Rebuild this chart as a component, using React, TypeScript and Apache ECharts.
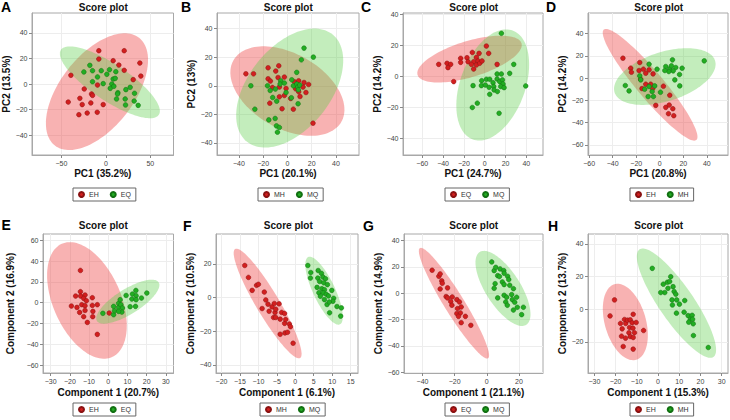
import React, { useEffect, useRef } from 'react';
import * as echarts from 'echarts';

const FONT = '"Liberation Sans", Arial, Helvetica, sans-serif';

// ---------- Panel A (PCA, EH vs EQ) ----------
const aEH = [[-7.9,26],[20.6,26],[-7.9,19.5],[8.2,18.2],[14.6,14.8],[38.2,16.4],[20.6,10.7],[-39.3,6.8],[39.3,6.2],[30.7,3.4],[-9.4,-0.8],[-24.3,-3.9],[-16.1,-7.8],[-15,-8.9],[-29.2,-11.2],[-42.3,-14.1],[-26.6,-16.1],[-16.9,-14.8],[-3,-16.1],[-21,-22.7],[-30.3,-24],[-9.7,-22.1]];
const aEQ = [[-18,14.6],[-24.7,9.4],[-15,10.4],[-5.2,10.4],[4.1,11.2],[11.2,9.6],[-9.4,5.5],[1.1,7.6],[-15,1.8],[8.2,3.9],[10.5,4.4],[-3,0.3],[6.7,0],[4.9,-3.4],[9,-1.8],[13.5,-6.8],[22.5,-4.4],[27.3,-2.6],[13.1,-7.8],[32.2,-7.3],[12,-11.7],[21.7,-11.7],[31.8,-13.3],[22.1,-16.4],[36.3,-16.7]];
// ellipse: [cx, cy, ux, uy, vx, vy] (center and conjugate semi-diameters, data units)
const aEllipses = [[-10,-6,47.3,42.1,-32.5,17.6],[4.5,1.3,55,-25.4,11.4,11.9]];

// ---------- Panel B (PCA, MH vs MQ) ----------
const bMH = [[-34.2,8.4],[-27.9,8.4],[-15.9,12.6],[-7.1,14],[-9.6,10.3],[-15.9,4.9],[-14,3.3],[-7.7,5.8],[-2.5,6.1],[-12.3,-1.2],[-6.6,-0.9],[-1.1,-1.9],[5.8,2.8],[9.3,3.5],[13.7,2.3],[17.5,0.9],[-6.6,-7.7],[-2.5,-6.8],[-14.5,-12.2],[-4.4,-16.1],[4.9,-16.4],[2.7,-8.9],[10.4,-7.5],[12.9,-0.9],[15.3,-4.7],[6.8,-2.1],[9.3,-4.2],[21.1,-26.2]];
const bMQ = [[13.7,26.4],[21.4,20.1],[11.5,18.2],[7.7,9.4],[-30.1,0],[-26.8,-16.4],[-16.4,0],[-14.2,-3.3],[-9.9,-2.3],[-5.5,3.5],[-6,1.2],[-2.5,1.9],[3.6,4.2],[4.9,0],[7.7,1.2],[8.5,-0.9],[9,-2.8],[10.1,0.5],[-1.1,-4.7],[-12.1,-8.2],[-8.8,-10.8],[3.3,-8.4],[8.8,-12.6],[-15.3,-23.9],[-10.1,-22.9],[-9,-28.1],[-6.6,-29.2],[-8.2,-32.5]];
const bEllipses = [[0,-3.7,44.5,-21.5,15.1,22.8],[1.9,-1.6,35.4,37.5,-26.3,18.2]];

// ---------- Panel C (PCA, EQ vs MQ) ----------
const cEQ = [[-44.2,7.9],[-36.2,8.6],[-32.7,7.9],[-35.3,5.8],[-29.8,-3.2],[-23.1,11.8],[-23.1,9.2],[-17,12.2],[-16,9.6],[-11.9,15.6],[-8,12.4],[-10.6,9.6],[-6.4,10.1],[-12.8,7.9],[-8,7.5],[-5.4,15],[-4.8,8.6],[-10.6,4.9],[1.6,19.7],[3.8,15],[11.9,7.9],[-2.6,10.1]];
const cMQ = [[16,27.9],[27.9,7.9],[24,2.1],[11.9,1.7],[16,1.7],[1.6,-1.7],[4.8,-1.7],[8,-3.9],[-2.9,-2.6],[-11.2,-5.8],[-3.2,-5.8],[0.6,-5.4],[4.2,-6.9],[8.7,-6.4],[9,-8.6],[11.9,-1.5],[14.4,-3.2],[17,-2.1],[17.6,-4.7],[15.4,-6.4],[18.6,-7.1],[12.2,-9.6],[4.8,-11.4],[39.4,-6],[-11.9,-19.9],[-7.1,-17.1],[13.8,-23.6]];
const cEllipses = [[-14.6,11.3,49.9,10.2,-5.1,11.1],[7.7,-5.4,19.1,35.1,-29.3,7.1]];

// ---------- Panel D (PCA, EH vs MH) ----------
const dEH = [[-31.3,18],[-24.7,9],[-24.1,5.4],[-17,14.1],[-17.6,6.9],[-13.9,8.1],[-11.9,4.5],[-9.1,7.5],[-5.7,3.9],[-15.1,-9.3],[-11.9,-5.4],[-7.7,-5.4],[-6,-9.3],[3.1,-7.2],[8.5,-15.3],[-3.4,-24.4],[5.1,-26.2],[8,-24.1],[11.1,-27.4],[7.4,-31.9],[11.9,-33.7],[-16.2,-0.9]];
const dMH = [[37.8,15.6],[10.8,16.5],[5.1,10.5],[8.5,8.4],[9.9,11.1],[13.6,9.6],[11.4,6.6],[7.7,6],[16.8,3.3],[19,9],[12.8,-1.5],[17,-6.9],[-9.1,12.6],[-2.3,8.1],[-17,2.1],[-16.2,-1.5],[-12.8,-9.9],[-9.1,-7.5],[-6.5,-12],[-9.9,-16.5],[-5.4,-16.5],[0.6,-12.6],[-4.3,-6.9],[-29.3,-6.6],[-26.1,-11.4],[4.3,6.9]];
const dEllipses = [[-8.2,-5.9,39.3,-49.6,8.7,7.7],[4.3,1.5,42.7,14.3,-6.3,21.1]];

// ---------- Panel E (PLS-DA, EH vs EQ) ----------
const eEH = [[-14.5,31],[-14.5,10.6],[-17,6.4],[-14.4,6.4],[-12.1,7.4],[-12.8,4.2],[-8.3,4.8],[-11.4,1.9],[-19.2,-3.2],[-16.3,-4.5],[-13.8,-1.9],[-12.1,-2.9],[-8.3,-2.6],[-5.7,-1.9],[-14.9,-9.3],[-12.1,-7.4],[-8,-8.3],[-12.8,-13.4],[-8.1,-13.4],[-10.9,-18.9],[-5.7,-30.4],[0.5,-9.9]];
const eEQ = [[-2.8,-10.2],[2.8,-11.5],[3.3,-7.7],[2.8,-3.5],[5.4,-4.5],[5.4,-0.6],[6.2,2.9],[6.6,-1.9],[7.4,-5.1],[7.1,-9],[9.3,7],[11.4,-3.8],[12.6,8.3],[12.3,3.5],[14.4,11.8],[14.5,6.7],[14.5,2.9],[14.2,-3.5],[17.3,4.5],[20.1,9.3],[5.4,-8.3]];
const eEllipses = [[-11.1,2.2,13.1,-54.4,16.1,13.3],[10.2,1,16.1,18.5,-3.4,10.2]];

// ---------- Panel F (PLS-DA, MH vs MQ) ----------
const fMH = [[-13.7,19.1],[-12.7,12],[-11.7,4.3],[-10.5,7.3],[-10,7.9],[-8.4,3.3],[-8,-1.4],[-7.4,-3.9],[-9,-6.5],[-7.1,-8.1],[-6.3,-5.5],[-5.7,-3.5],[-5.5,-8.8],[-5.9,-11.8],[-5.3,-11.8],[-4.4,-3.7],[-4.1,-12.8],[-3.7,-8.8],[-2.9,-9.4],[-2.9,-15.3],[-1.6,-15.7],[-1.3,-17.3],[-2.6,-13],[-4.1,-21.8],[-2.8,-21],[-2.1,-20.6],[-0.6,-27.1],[-5.3,-6.9]];
const fMQ = [[3.4,19.1],[4.2,14.9],[4.1,11.6],[6.2,16.1],[6.1,11.6],[7.1,14.4],[7.5,12.2],[6.6,9.6],[8.2,11.2],[7.7,8.8],[8.7,7.7],[5.9,6.1],[6.4,2.9],[7.2,5.3],[7.9,4.7],[7.6,2.8],[8.4,2],[7.9,-1.2],[9,1],[9.9,4.3],[10.4,-0.4],[10.2,-2.2],[8.6,-4.1],[9.2,-2.6],[11.3,-5.3],[12.5,-6.1],[12.3,-11],[9.3,-9],[6.8,0.8]];
const fEllipses = [[-7.5,-3.5,8.8,-32.4,2.7,3.5],[7.8,4.1,4.3,-20,2.7,2.75]];

// ---------- Panel G (PLS-DA, EQ vs MQ) ----------
const gEQ = [[-34,17.5],[-29.8,12.9],[-29,14.7],[-28,9.4],[-27.7,7.6],[-29,3.3],[-24.4,4.1],[-25.3,-2.5],[-24.4,-3.5],[-21.5,-2.8],[-22.4,-6.3],[-21.7,-9.1],[-18.6,-4.8],[-17,-6.6],[-18.2,-11.6],[-15.9,-10.4],[-18.6,-15.4],[-16.4,-14.9],[-17.6,-17.5],[-13.3,-17.5],[-15.9,-22.3],[-9.9,-24.3]];
const gMQ = [[3.1,23.8],[4.6,17.2],[5.6,19.7],[6.8,13.4],[8.3,18.5],[7.9,12.7],[10.6,17.2],[10.8,15.2],[13,12.9],[9.7,8.6],[10.8,6.6],[13.7,10.4],[14.3,6.1],[16.6,3.5],[15.5,-1],[10.8,-1.5],[12.4,-3],[11.8,-6.6],[5.2,7.3],[4.6,3.8],[6.8,-3.5],[15.9,-4.8],[17.4,-6.8],[19,-10.6],[16.6,-12.7],[22.8,-10.6],[21.7,-16.2],[12.8,-9.1],[18.6,-3]];
const gEllipses = [[-20.4,-7.5,21.2,-41.8,5.3,4],[10.1,3.7,14.5,-27.6,9.1,7.1]];

// ---------- Panel H (PLS-DA, EH vs MH) ----------
const hEH = [[-20.5,5.7],[-22.6,-4.1],[-17.7,-8.7],[-16.9,-12],[-15.8,-6.3],[-15.2,-8.7],[-14.4,-6.7],[-13.1,-6.5],[-12.2,-8.3],[-11.7,-3.1],[-10.3,-8.1],[-13.4,-11.2],[-11.8,-11.6],[-11.1,-14.4],[-13.7,-14.4],[-13.1,-16.7],[-11.7,-17.3],[-15.3,-17.7],[-17.2,-16.5],[-16.4,-22.8],[-6.8,-13],[-11.7,-24.4]];
const hMH = [[-2.7,25],[2.5,15.3],[4.4,16.5],[6,19.9],[5.5,16.9],[7.1,13.8],[4.7,12.8],[3.2,10.2],[1.3,10.2],[7.6,10.8],[6.6,5.7],[8.4,9.2],[8.8,5.7],[6.8,2.6],[10.1,3.1],[8.7,-2.4],[12.3,-1.8],[12.6,5.3],[14.2,-3.9],[15.3,-6.1],[16.1,-3.7],[16.3,-6.1],[16.6,-8.9],[16.7,-16.1],[23.7,-23.4],[14.5,-7.9]];
const hEllipses = [[-15.4,-7.8,5.1,-23.1,9.3,3.5],[8.7,3.7,17.4,-32.9,6.8,5.9]];

// ---------- Labels, ticks, ranges ----------
const panelLetters = ['A','B','C','D','E','F','G','H'];
const groupNames = [['EH','EQ'],['MH','MQ'],['EQ','MQ'],['EH','MH'],['EH','EQ'],['MH','MQ'],['EQ','MQ'],['EH','MH']];
const xNames = ['PC1 (35.2%)','PC1 (20.1%)','PC1 (24.7%)','PC1 (20.8%)','Component 1 (20.7%)','Component 1 (6.1%)','Component 1 (21.1%)','Component 1 (15.3%)'];
const yNames = ['PC2 (13.5%)','PC2 (13%)','PC2 (14.2%)','PC2 (14.2%)','Component 2 (16.9%)','Component 2 (10.5%)','Component 2 (14.9%)','Component 2 (13.7%)'];
const xTicks = [[-50,0,50],[-40,-20,0,20,40],[-60,-40,-20,0,20,40],[-60,-40,-20,0,20,40],[-30,-20,-10,0,10,20,30],[-20,-15,-10,-5,0,5,10,15],[-40,-20,0,20],[-30,-20,-10,0,10,20,30]];
const yTicks = [[-40,-20,0,20,40],[-40,-20,0,20,40],[-40,-20,0,20,40],[-60,-40,-20,0,20,40],[-60,-40,-20,0,20,40,60],[-40,-20,0,20],[-60,-40,-20,0,20,40],[-20,0,20,40]];
const xRanges = [[-83,76],[-58,59],[-78.5,56],[-61,58],[-34,34],[-21.5,17],[-51.5,35],[-33,33]];
const yRanges = [[-55.5,55.5],[-48.5,51],[-50.5,41],[-69,58.6],[-67.5,66],[-44.8,37.8],[-60.5,45],[-39,46]];
const redPoints = [aEH, bMH, cEQ, dEH, eEH, fMH, gEQ, hEH];
const greenPoints = [aEQ, bMQ, cMQ, dMH, eEQ, fMQ, gMQ, hMH];
const ellipses = [aEllipses, bEllipses, cEllipses, dEllipses, eEllipses, fEllipses, gEllipses, hEllipses];

// ---------- Layout (pixels) ----------
const gridRects = [
  [32, 13, 141.5, 142], [217, 13, 142, 142], [403, 13, 140, 142], [588, 13, 140, 142],
  [43, 234, 130.5, 139], [216, 234, 142, 139], [404, 234, 139, 139], [588, 234, 140, 139],
];
const xSplit = [3, 5, 6, 5, 5, 6, 4, 5];
const ySplit = [5, 5, 5, 6, 6, 4, 5, 4];
const yNameGaps = [17.5, 21, 18.5, 18.5, 27.5, 15, 20, 19];
const titleX = [103.3, 288.3, 473.7, 658.7, 103.3, 288.3, 473.7, 658.7];
const legendLeft = [73, 258, 445, 630, 73, 260, 445, 630];
const letterPos = [[1, 7], [181, 7], [361, 7], [546, 7], [1.5, 224.5], [183, 225.5], [363, 225.5], [548, 225.5]];

const RED_FILL = 'rgba(236,52,52,0.38)';
const GREEN_FILL = 'rgba(90,205,70,0.36)';
const RED_PT = '#d21f1f';
const GREEN_PT = '#22ad22';

const fmt = (v: number) => (v < 0 ? '\u2212' + Math.abs(v) : String(v));

function ellipseRender(fill: string) {
  return (params: any, api: any) => {
    const cx = api.value(0), cy = api.value(1);
    const ux = api.value(2), uy = api.value(3);
    const vx = api.value(4), vy = api.value(5);
    const pts: number[][] = [];
    const n = 120;
    for (let k = 0; k < n; k++) {
      const t = (k / n) * Math.PI * 2;
      const c = Math.cos(t), s = Math.sin(t);
      pts.push(api.coord([cx + ux * c + vx * s, cy + uy * c + vy * s]));
    }
    return { type: 'polygon', shape: { points: pts }, style: { fill, stroke: 'none' } };
  };
}

function buildOption() {
  const grid: any[] = [];
  const xAxis: any[] = [];
  const yAxis: any[] = [];
  const series: any[] = [];
  const legend: any[] = [];
  const graphic: any[] = [];

  for (let i = 0; i < 8; i++) {
    const [l, t, w, h] = gridRects[i];
    const L = panelLetters[i];
    const [g1, g2] = groupNames[i];
    const bottomRow = i >= 4;
    grid.push({ left: l, top: t, width: w, height: h, show: true, borderColor: '#a8a8a8', borderWidth: 1, backgroundColor: '#ffffff', containLabel: false, outerBoundsMode: 'none' });
    xAxis.push({
      type: 'value', gridIndex: i, min: xRanges[i][0], max: xRanges[i][1], splitNumber: xSplit[i],
      name: xNames[i], nameLocation: 'middle', nameGap: bottomRow ? 14 : 13,
      nameTextStyle: { fontFamily: FONT, fontSize: 10, fontWeight: 'bold', color: '#111' },
      axisLine: { show: true, onZero: false, lineStyle: { color: '#a8a8a8', width: 1 } },
      axisTick: { show: true, length: 3, customValues: xTicks[i], lineStyle: { color: '#888' } },
      axisLabel: { customValues: xTicks[i], fontSize: 7, color: '#444', margin: 5, fontFamily: FONT, formatter: fmt },
      splitLine: { show: true, lineStyle: { color: '#ededed', width: 1 } },
    });
    yAxis.push({
      type: 'value', gridIndex: i, min: yRanges[i][0], max: yRanges[i][1], splitNumber: ySplit[i],
      name: yNames[i], nameLocation: 'middle', nameGap: yNameGaps[i],
      nameTextStyle: { fontFamily: FONT, fontSize: 10, fontWeight: 'bold', color: '#111' },
      axisLine: { show: true, onZero: false, lineStyle: { color: '#a8a8a8', width: 1 } },
      axisTick: { show: true, length: 3, customValues: yTicks[i], lineStyle: { color: '#888' } },
      axisLabel: { customValues: yTicks[i], fontSize: 7, color: '#444', margin: 4.5, fontFamily: FONT, formatter: fmt },
      splitLine: { show: true, lineStyle: { color: '#ededed', width: 1 } },
    });
    series.push({
      type: 'custom', name: `${L}-ellipse-1`, xAxisIndex: i, yAxisIndex: i,
      renderItem: ellipseRender(RED_FILL), data: [ellipses[i][0]], silent: true, z: 1,
    });
    series.push({
      type: 'custom', name: `${L}-ellipse-2`, xAxisIndex: i, yAxisIndex: i,
      renderItem: ellipseRender(GREEN_FILL), data: [ellipses[i][1]], silent: true, z: 1,
    });
    series.push({
      type: 'scatter', name: `${L}|${g1}`, xAxisIndex: i, yAxisIndex: i, data: redPoints[i],
      symbolSize: 4.7, z: 3,
      itemStyle: { color: RED_PT, borderColor: '#8a1212', borderWidth: 0.5, opacity: 1 },
    });
    series.push({
      type: 'scatter', name: `${L}|${g2}`, xAxisIndex: i, yAxisIndex: i, data: greenPoints[i],
      symbolSize: 4.7, z: 3,
      itemStyle: { color: GREEN_PT, borderColor: '#127012', borderWidth: 0.5, opacity: 1 },
    });
    legend.push({
      data: [`${L}|${g1}`, `${L}|${g2}`], left: legendLeft[i], top: bottomRow ? 403 : 188,
      orient: 'horizontal', icon: 'circle', itemWidth: 5, itemHeight: 5, itemGap: 11,
      padding: [3, 5], borderColor: '#666', borderWidth: 1, borderRadius: 0,
      backgroundColor: '#fff', selectedMode: false,
      textStyle: { fontSize: 7, color: '#333', fontFamily: FONT },
      formatter: (name: string) => name.split('|')[1],
    });
    graphic.push({
      type: 'text', x: titleX[i], y: bottomRow ? 225.7 : 7.5,
      style: { text: 'Score plot', font: `bold 10px ${FONT}`, fill: '#111', textAlign: 'center', textVerticalAlign: 'middle' },
    });
    graphic.push({
      type: 'text', x: letterPos[i][0], y: letterPos[i][1],
      style: { text: L, font: `bold 14px ${FONT}`, fill: '#000', textAlign: 'left', textVerticalAlign: 'middle' },
    });
  }

  return {
    animation: false,
    backgroundColor: '#ffffff',
    textStyle: { fontFamily: FONT },
    grid, xAxis, yAxis, series, legend, graphic,
  };
}

export default function App() {
  const ref = useRef<HTMLDivElement>(null);
  useEffect(() => {
    const chart = echarts.init(ref.current as HTMLDivElement, undefined, { renderer: 'svg' });
    chart.setOption(buildOption() as any);
    return () => chart.dispose();
  }, []);
  return (
    <div
      ref={ref}
      style={{ position: 'absolute', left: 0, top: 0, width: 730, height: 420, background: '#fff' }}
    />
  );
}
